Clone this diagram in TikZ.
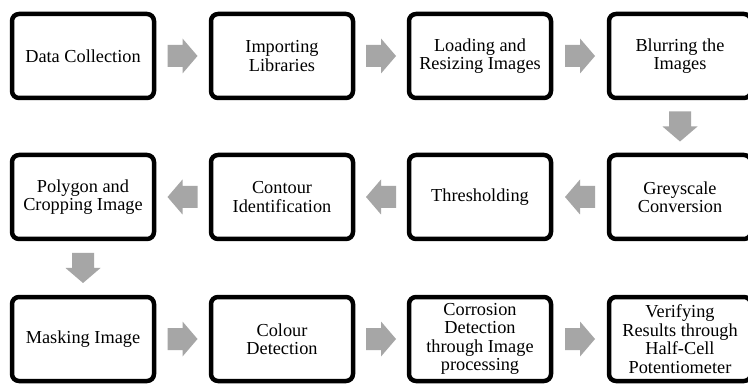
\documentclass[tikz,border=0pt]{standalone}
\usepackage{fontspec}
\setmainfont{Liberation Serif}
\usetikzlibrary{calc}
\definecolor{arrowgray}{HTML}{A6A6A6}
\tikzset{
  stepbox/.style={draw=black, line width=4.5pt, rounded corners=7pt,
    minimum width=142pt, minimum height=84pt, inner sep=0pt, align=center,
    font=\fontsize{18.3}{18.5}\selectfont, fill=white},
  blockarrow/.pic={\fill[arrowgray] (-15,-11) -- (0,-11) -- (0,-17.5) -- (15,0)
    -- (0,17.5) -- (0,11) -- (-15,11) -- cycle;},
}
\begin{document}
\begin{tikzpicture}[x=1pt,y=1pt]
\useasboundingbox (0,0) rectangle (748,-385);
\fill[white] (0,0) rectangle (748,-385);
% row 1
\node[stepbox] (a1) at (83,-56) {Data Collection};
\node[stepbox] (a2) at (282,-56) {Importing\\Libraries};
\node[stepbox] (a3) at (480,-56) {Loading and\\Resizing Images};
\node[stepbox] (a4) at (680,-56) {Blurring the\\Images};
% row 2
\node[stepbox] (b1) at (83,-197) {Polygon and\\Cropping Image};
\node[stepbox] (b2) at (282,-197) {Contour\\Identification};
\node[stepbox] (b3) at (480,-197) {Thresholding};
\node[stepbox] (b4) at (680,-197) {Greyscale\\Conversion};
% row 3
\node[stepbox] (c1) at (83,-339) {Masking Image};
\node[stepbox] (c2) at (282,-339) {Colour\\Detection};
\node[stepbox] (c3) at (480,-339) {Corrosion\\Detection\\through Image\\processing};
\node[stepbox] (c4) at (680,-339) {Verifying\\Results through\\Half-Cell\\Potentiometer};
% arrows
\pic at ($(a1.east)!0.5!(a2.west)$) {blockarrow};
\pic at ($(a2.east)!0.5!(a3.west)$) {blockarrow};
\pic at ($(a3.east)!0.5!(a4.west)$) {blockarrow};
\pic[rotate=-90] at ($(a4.south)!0.5!(b4.north)$) {blockarrow};
\pic[rotate=180] at ($(b4.west)!0.5!(b3.east)$) {blockarrow};
\pic[rotate=180] at ($(b3.west)!0.5!(b2.east)$) {blockarrow};
\pic[rotate=180] at ($(b2.west)!0.5!(b1.east)$) {blockarrow};
\pic[rotate=-90] at ($(b1.south)!0.5!(c1.north)$) {blockarrow};
\pic at ($(c1.east)!0.5!(c2.west)$) {blockarrow};
\pic at ($(c2.east)!0.5!(c3.west)$) {blockarrow};
\pic at ($(c3.east)!0.5!(c4.west)$) {blockarrow};
\end{tikzpicture}
\end{document}
